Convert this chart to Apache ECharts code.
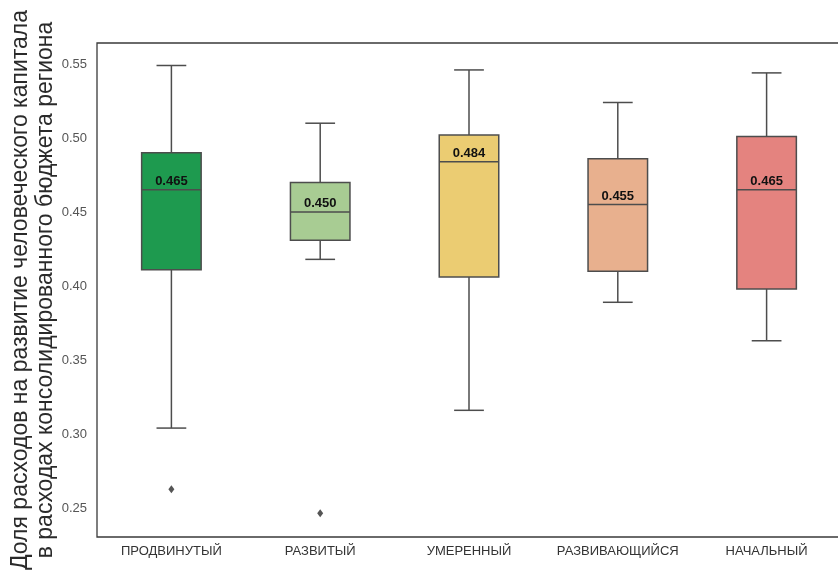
<!DOCTYPE html>
<html>
<head>
<meta charset="utf-8">
<script src="https://cdn.jsdelivr.net/npm/echarts@6/dist/echarts.min.js"></script>
<style>
html,body{margin:0;padding:0;background:#fff;}
#chart{width:838px;height:572px;}
</style>
</head>
<body>
<div id="chart"></div>
<script>
// Categories
const categories = ['ПРОДВИНУТЫЙ', 'РАЗВИТЫЙ', 'УМЕРЕННЫЙ', 'РАЗВИВАЮЩИЙСЯ', 'НАЧАЛЬНЫЙ'];
// Box statistics per category
const lowWhisker  = [0.304, 0.418, 0.316, 0.389, 0.363];
const q1Values    = [0.411, 0.431, 0.406, 0.410, 0.398];
const medians     = [0.465, 0.450, 0.484, 0.455, 0.465];
const q3Values    = [0.490, 0.470, 0.502, 0.486, 0.501];
const highWhisker = [0.549, 0.510, 0.546, 0.524, 0.544];
// Outliers: [category index, value]
const outliers = [[0, 0.2626], [1, 0.2464]];
// Y-axis
const yTitle = 'Доля расходов на развитие человеческого капитала\nв расходах консолидированного бюджета региона';
const boxColors = ['#1e9a4f', '#a8cc93', '#ebcc72', '#e8b08e', '#e4837f'];

const boxData = categories.map((c, i) => [i, lowWhisker[i], q1Values[i], medians[i], q3Values[i], highWhisker[i]]);

const chart = echarts.init(document.getElementById('chart'), null, {renderer: 'canvas'});
const lineColor = '#4d4d4d';
const font = 'Liberation Sans, Arial, sans-serif';

chart.setOption({
  animation: false,
  backgroundColor: '#fff',
  grid: {left: 97, top: 43, width: 744, height: 494, show: true, borderColor: '#3a3a3a', borderWidth: 1.3,
    backgroundColor: 'transparent', outerBoundsMode: 'none', containLabel: false},
  graphic: [{
    type: 'text',
    x: 33,
    y: 290,
    rotation: Math.PI / 2,
    style: {text: yTitle, align: 'center', verticalAlign: 'middle', fill: '#2a2a2a',
      font: '23px ' + font, lineHeight: 25}
  }],
  xAxis: {
    type: 'category',
    data: categories,
    axisLine: {show: false},
    axisTick: {show: false},
    splitLine: {show: false},
    axisLabel: {color: '#333', fontSize: 13, fontFamily: font, margin: 8, interval: 0}
  },
  yAxis: {
    type: 'value',
    min: 0.2304,
    max: 0.5642,
    minInterval: 0.05,
    maxInterval: 0.05,
    splitNumber: 7,
    axisLine: {show: false},
    axisTick: {show: false},
    splitLine: {show: false},
    axisLabel: {
      color: '#555', fontSize: 13, fontFamily: font, margin: 10,
      showMinLabel: false, showMaxLabel: false,
      formatter: function (v) {
        const r = Math.round(v * 100);
        if (Math.abs(v * 100 - r) > 1e-6 || r % 5 !== 0) return '';
        return v.toFixed(2);
      }
    }
  },
  series: [
    {
      type: 'custom',
      data: boxData,
      renderItem: function (params, api) {
        const i = api.value(0);
        const pLow = api.coord([i, api.value(1)]);
        const pQ1 = api.coord([i, api.value(2)]);
        const pMed = api.coord([i, api.value(3)]);
        const pQ3 = api.coord([i, api.value(4)]);
        const pHigh = api.coord([i, api.value(5)]);
        const band = api.size([1, 0])[0];
        const bw = band * 0.4;
        const cx = pMed[0];
        const capW = bw / 2;
        const lineStyle = {stroke: lineColor, lineWidth: 1.5, fill: null};
        const med = api.value(3);
        return {
          type: 'group',
          children: [
            {type: 'line', shape: {x1: cx, y1: pLow[1], x2: cx, y2: pQ1[1]}, style: lineStyle},
            {type: 'line', shape: {x1: cx, y1: pQ3[1], x2: cx, y2: pHigh[1]}, style: lineStyle},
            {type: 'line', shape: {x1: cx - capW / 2, y1: pLow[1], x2: cx + capW / 2, y2: pLow[1]}, style: lineStyle},
            {type: 'line', shape: {x1: cx - capW / 2, y1: pHigh[1], x2: cx + capW / 2, y2: pHigh[1]}, style: lineStyle},
            {type: 'rect', shape: {x: cx - bw / 2, y: pQ3[1], width: bw, height: pQ1[1] - pQ3[1]},
              style: {fill: boxColors[i], stroke: lineColor, lineWidth: 1.5}},
            {type: 'line', shape: {x1: cx - bw / 2, y1: pMed[1], x2: cx + bw / 2, y2: pMed[1]}, style: lineStyle},
            {type: 'text', style: {text: med.toFixed(3), x: cx, y: pMed[1] - 2, align: 'center', verticalAlign: 'bottom',
              fill: '#111', font: 'bold 13px ' + font}}
          ]
        };
      },
      encode: {x: 0, y: [1, 2, 3, 4, 5]},
      z: 2
    },
    {
      type: 'scatter',
      data: outliers,
      symbol: 'diamond',
      symbolSize: [6, 8],
      itemStyle: {color: '#2a2a2a'},
      z: 3
    }
  ]
});
</script>
</body>
</html>
